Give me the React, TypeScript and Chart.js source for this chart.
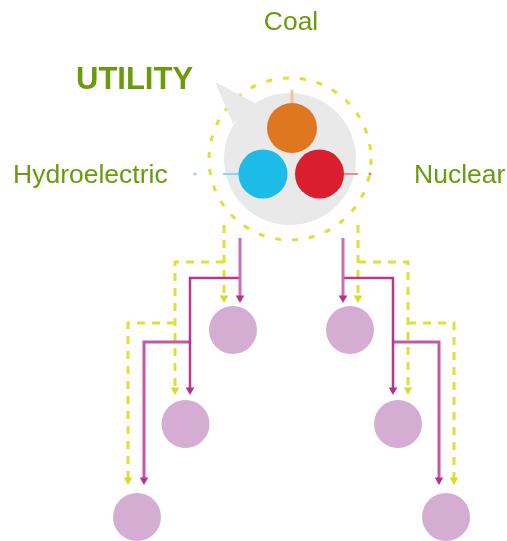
import React, { useEffect, useRef } from "react";
import { Chart, registerables } from "chart.js";

Chart.register(...registerables);

// ---- data (diagram coordinates in a 507 x 541 data space) ----
const labelTexts = ["Coal", "UTILITY", "Hydroelectric", "Nuclear"];
const labelX = [291, 76, 13, 414];
const labelY = [30, 89, 183, 183];
const labelAlign = ["center", "left", "left", "left"];

const hubX = [290];
const hubY = [159];
const hubR = [66];
const tailX = [216, 254, 233, 216];
const tailY = [83, 103, 123, 83];
const ringR = [81];

const sourceNames = ["Coal", "Hydroelectric", "Nuclear"];
const sourceX = [292, 263, 319.5];
const sourceY = [128, 174, 174];
const sourceR = [25, 24.5, 24.5];

const stubPaths = [
  [[292, 90], [292, 104]],
  [[223, 174], [240, 174]],
  [[343, 174], [358, 174]],
];
const stubDots = [[195, 174], [370, 174]];

const nodeX = [233, 350, 185.5, 398, 137, 446];
const nodeY = [330, 330, 424, 424, 517, 517];
const nodeR = [24, 24, 24, 24, 24, 24];

const purplePaths = [
  [[240, 238], [240, 298]],
  [[240, 278], [190, 278], [190, 390]],
  [[190, 342], [144, 342], [144, 480]],
  [[343, 238], [343, 298]],
  [[343, 278], [393, 278], [393, 390]],
  [[393, 342], [439, 342], [439, 480]],
];
const yellowPaths = [
  [[224, 225], [224, 298]],
  [[224, 262], [175, 262], [175, 390]],
  [[175, 323], [128, 323], [128, 480]],
  [[358, 225], [358, 298]],
  [[358, 262], [408, 262], [408, 390]],
  [[408, 323], [454, 323], [454, 480]],
];

// ---- styles ----
const GREEN = "#6A9B0C";
const sourceColors = ["#DF7620", "#1CBCE6", "#DB1E2F"];
const stubColors = ["#F1C39B", "#8AD6EF", "#E98A93"];
const stubDotColors = ["#8AD6EF", "#E48A50"];
const purpleColors = ["#C870B4", "#B5388F", "#C05AA8", "#C870B4", "#B5388F", "#C05AA8"];
const purpleWidths = [3, 2.5, 3, 3, 2.5, 3];
const YELLOW = "#DFDF3A";
const NODE = "#D5ADD3";
const HUB = "#E9E9E9";

const textPlugin = {
  id: "diagramText",
  afterDatasetsDraw(chart: any) {
    const { ctx, scales } = chart;
    ctx.save();
    labelTexts.forEach((t, i) => {
      const bold = t === "UTILITY";
      ctx.font = bold
        ? "bold 31px 'Liberation Sans', Arial, sans-serif"
        : "26.5px 'Liberation Sans', Arial, sans-serif";
      ctx.fillStyle = GREEN;
      ctx.textAlign = labelAlign[i];
      ctx.textBaseline = "alphabetic";
      ctx.fillText(t, scales.x.getPixelForValue(labelX[i]), scales.y.getPixelForValue(labelY[i]));
    });
    ctx.restore();
  },
};

const ringPlugin = {
  id: "dashedRing",
  beforeDatasetsDraw(chart: any) {
    const { ctx, scales } = chart;
    const cx = scales.x.getPixelForValue(hubX[0]);
    const cy = scales.y.getPixelForValue(hubY[0]);
    const r = Math.abs(scales.x.getPixelForValue(hubX[0] + ringR[0]) - cx);
    ctx.save();
    ctx.strokeStyle = YELLOW;
    ctx.lineWidth = 3;
    ctx.setLineDash([6, 11]);
    ctx.beginPath();
    ctx.arc(cx, cy, r, 0, Math.PI * 2);
    ctx.stroke();
    ctx.restore();
  },
};

function toPts(path: number[][]) {
  return path.map(([x, y]) => ({ x, y }));
}

export default function App() {
  const ref = useRef<HTMLCanvasElement | null>(null);

  useEffect(() => {
    if (!ref.current) return;
    const datasets: any[] = [];

    datasets.push({
      type: "scatter",
      label: "sources",
      data: sourceX.map((x, i) => ({ x, y: sourceY[i] })),
      pointRadius: sourceR,
      pointBackgroundColor: sourceColors,
      pointBorderWidth: 0,
      order: 1,
    });

    datasets.push({
      type: "scatter",
      label: "nodes",
      data: nodeX.map((x, i) => ({ x, y: nodeY[i] })),
      pointRadius: nodeR,
      pointBackgroundColor: NODE,
      pointBorderWidth: 0,
      order: 1,
    });

    datasets.push({
      type: "scatter",
      label: "purpleArrows",
      data: purplePaths.map((p) => ({ x: p[p.length - 1][0], y: p[p.length - 1][1] })),
      pointStyle: "triangle",
      rotation: 180,
      pointRadius: 5,
      pointBackgroundColor: "#B5338D",
      pointBorderWidth: 0,
      order: 1,
    });
    datasets.push({
      type: "scatter",
      label: "yellowArrows",
      data: yellowPaths.map((p) => ({ x: p[p.length - 1][0], y: p[p.length - 1][1] })),
      pointStyle: "triangle",
      rotation: 180,
      pointRadius: 5,
      pointBackgroundColor: "#DADA2A",
      pointBorderWidth: 0,
      order: 1,
    });

    purplePaths.forEach((p, i) => {
      datasets.push({
        type: "line",
        label: "purple" + i,
        data: toPts(p),
        borderColor: purpleColors[i],
        borderWidth: purpleWidths[i],
        pointRadius: 0,
        fill: false,
        order: 2,
      });
    });
    yellowPaths.forEach((p, i) => {
      datasets.push({
        type: "line",
        label: "yellow" + i,
        data: toPts(p),
        borderColor: YELLOW,
        borderWidth: 3,
        borderDash: [8, 7],
        pointRadius: 0,
        fill: false,
        order: 2,
      });
    });

    stubPaths.forEach((p, i) => {
      datasets.push({
        type: "line",
        label: "stub" + i,
        data: toPts(p),
        borderColor: stubColors[i],
        borderWidth: i === 0 ? 3 : 2,
        pointRadius: 0,
        fill: false,
        order: 2,
      });
    });
    datasets.push({
      type: "scatter",
      label: "stubDots",
      data: stubDots.map(([x, y]) => ({ x, y })),
      pointStyle: "rect",
      pointRadius: 2,
      pointBackgroundColor: stubDotColors,
      pointBorderWidth: 0,
      order: 2,
    });

    datasets.push({
      type: "scatter",
      label: "hub",
      data: hubX.map((x, i) => ({ x, y: hubY[i] })),
      pointRadius: hubR,
      pointBackgroundColor: HUB,
      pointBorderWidth: 0,
      order: 3,
    });
    datasets.push({
      type: "line",
      label: "tail",
      data: tailX.map((x, i) => ({ x, y: tailY[i] })),
      borderColor: HUB,
      borderWidth: 1,
      backgroundColor: HUB,
      fill: "shape",
      pointRadius: 0,
      order: 4,
    });

    const chart = new Chart(ref.current, {
      type: "scatter",
      data: { datasets },
      options: {
        animation: false,
        responsive: false,
        events: [],
        layout: { padding: 0, autoPadding: false },
        plugins: { legend: { display: false }, tooltip: { enabled: false } },
        scales: {
          x: { type: "linear", min: 0, max: 507, display: false },
          y: { type: "linear", min: 0, max: 541, reverse: true, display: false },
        },
      },
      plugins: [ringPlugin, textPlugin],
    } as any);
    return () => chart.destroy();
  }, []);

  return (
    <div style={{ position: "fixed", left: 0, top: 0, width: 507, height: 541, background: "#fff" }}>
      <canvas ref={ref} width={507} height={541} style={{ display: "block" }} />
    </div>
  );
}
